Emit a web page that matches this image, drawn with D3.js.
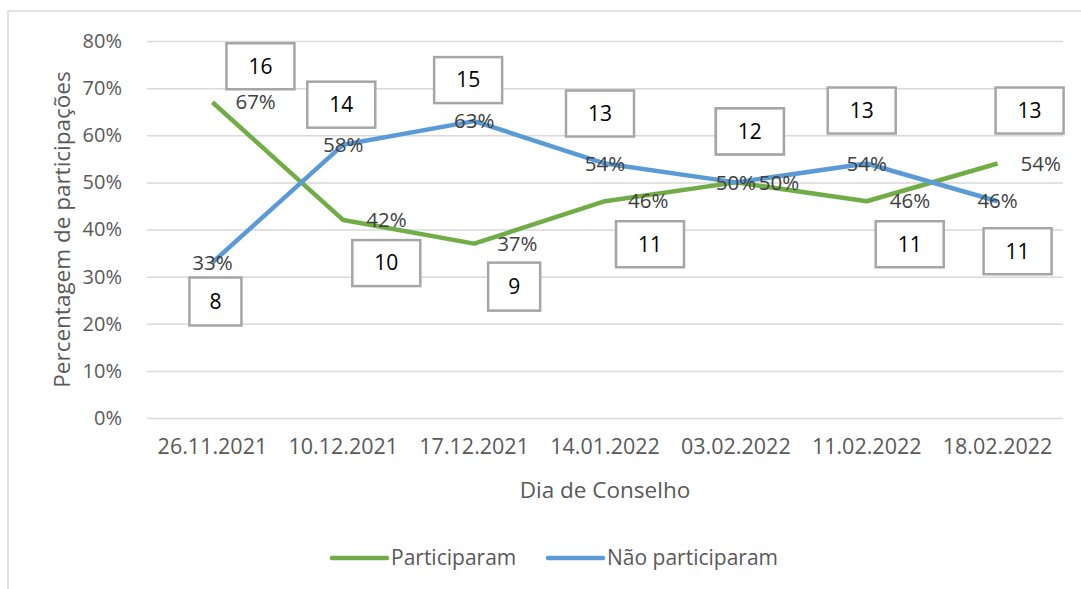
<!DOCTYPE html>
<html>
<head>
<meta charset="utf-8">
<script src="https://cdn.jsdelivr.net/npm/d3@7"></script>
<style>
  body { margin: 0; background: #fff; }
  text { font-family: "Open Sans", sans-serif; }
</style>
</head>
<body>
<script>
const dates = ["26.11.2021", "10.12.2021", "17.12.2021", "14.01.2022", "03.02.2022", "11.02.2022", "18.02.2022"];
const participaram = [0.67, 0.42, 0.37, 0.46, 0.50, 0.46, 0.54];
const naoParticiparam = [0.33, 0.58, 0.63, 0.54, 0.50, 0.54, 0.46];
const countsPart = [16, 10, 9, 11, 12, 11, 13];
const countsNao = [8, 14, 15, 13, 12, 13, 11];
const yTicks = [0, 0.1, 0.2, 0.3, 0.4, 0.5, 0.6, 0.7, 0.8];

// where the count boxes sit, relative to their point (px)
const boxOffsetPart = [[48, -36], [43, 43], [40, 43], [45, 43], [14, -51], [43, 43], [32, -53]];
const boxOffsetNao = [[3, 39], [-2, -40], [-6, -41], [-5, -50], [14, -51], [-5, -53], [20, 50]];

const W = 1081, H = 589;
const margin = {top: 41, right: 18, bottom: 171, left: 147},
    width = W - margin.left - margin.right,
    height = H - margin.top - margin.bottom;

const green = "#70ad47", blue = "#5b9bd5";

let root = d3.select("body").append("svg")
    .attr("width", W)
    .attr("height", H);

// outer frame
root.append("rect")
    .attr("x", 8).attr("y", 11)
    .attr("width", W + 10).attr("height", H + 10)
    .attr("fill", "none")
    .attr("stroke", "#d9d9d9")
    .attr("stroke-width", 1.5);

let svg = root.append("g")
    .attr("transform", "translate(" + margin.left + "," + margin.top + ")");

let xScale = d3.scaleBand().domain(dates).range([0, width]).padding(0);
let yScale = d3.scaleLinear().domain([0, 0.8]).range([height, 0]);
const cx = d => xScale(d) + xScale.bandwidth() / 2;

// y axis + gridlines
let yAxis = svg.append("g")
    .call(d3.axisLeft(yScale).tickValues(yTicks).tickFormat(d3.format(".0%"))
        .tickSize(-width).tickPadding(25));
yAxis.select(".domain").remove();
yAxis.selectAll("line").attr("stroke", "#d9d9d9").attr("stroke-width", 1.5);
yAxis.selectAll("text").attr("fill", "#595959").attr("font-size", 20);

// x axis
let xAxis = svg.append("g")
    .attr("transform", "translate(0," + height + ")")
    .call(d3.axisBottom(xScale).tickSize(0).tickPadding(21));
xAxis.select(".domain").remove();
xAxis.selectAll("text").attr("fill", "#595959").attr("font-size", 21.5);

// axis titles
root.append("text")
    .attr("transform", "translate(70," + (margin.top + height / 2) + ") rotate(-90)")
    .attr("text-anchor", "middle")
    .attr("fill", "#595959").attr("font-size", 22.5)
    .text("Percentagem de participações");

root.append("text")
    .attr("x", margin.left + width / 2).attr("y", 498)
    .attr("text-anchor", "middle")
    .attr("fill", "#595959").attr("font-size", 22.5)
    .text("Dia de Conselho");

let series = [
    {name: "Participaram", values: participaram, counts: countsPart, offs: boxOffsetPart, color: green, pos: "right"},
    {name: "Não participaram", values: naoParticiparam, counts: countsNao, offs: boxOffsetNao, color: blue, pos: "center"}
];

let line = d3.line()
    .x((d, i) => cx(dates[i]))
    .y(d => yScale(d));

series.forEach(s => {
    svg.append("path")
        .datum(s.values)
        .attr("fill", "none")
        .attr("stroke", s.color)
        .attr("stroke-width", 4.5)
        .attr("stroke-linejoin", "round")
        .attr("d", line);
});

// count boxes
series.forEach(s => {
    let g = svg.append("g").selectAll("g")
        .data(s.counts)
        .enter().append("g")
        .attr("transform", (d, i) => "translate(" + (cx(dates[i]) + s.offs[i][0]) + "," + (yScale(s.values[i]) + s.offs[i][1]) + ")");
    g.append("rect")
        .attr("x", d => String(d).length > 1 ? -34 : -26)
        .attr("y", d => String(d).length > 1 ? -23 : -24)
        .attr("width", d => String(d).length > 1 ? 68 : 52)
        .attr("height", d => String(d).length > 1 ? 46 : 48)
        .attr("fill", "#fff")
        .attr("stroke", "#a6a6a6")
        .attr("stroke-width", 2.5);
    g.append("text")
        .attr("text-anchor", "middle")
        .attr("dy", "0.35em")
        .attr("fill", "#000")
        .attr("font-size", 21)
        .text(d => d);
});

// percentage labels
series.forEach(s => {
    svg.append("g").selectAll("text")
        .data(s.values)
        .enter().append("text")
        .attr("x", (d, i) => cx(dates[i]) + (s.pos === "right" ? 23 : 0))
        .attr("y", d => yScale(d))
        .attr("dy", "0.35em")
        .attr("text-anchor", s.pos === "right" ? "start" : "middle")
        .attr("fill", "#404040")
        .attr("font-size", 20.5)
        .text(d => d3.format(".0%")(d));
});

// legend
let legend = root.append("g").attr("transform", "translate(332,558)");
let lx = 0;
series.forEach(s => {
    let item = legend.append("g").attr("transform", "translate(" + lx + ",0)");
    item.append("line")
        .attr("x1", 0).attr("x2", 55)
        .attr("stroke", s.color).attr("stroke-width", 4.5)
        .attr("stroke-linecap", "round");
    item.append("text")
        .attr("x", 59).attr("dy", "0.35em")
        .attr("fill", "#595959").attr("font-size", 21)
        .text(s.name);
    lx += 216;
});
</script>
</body>
</html>
